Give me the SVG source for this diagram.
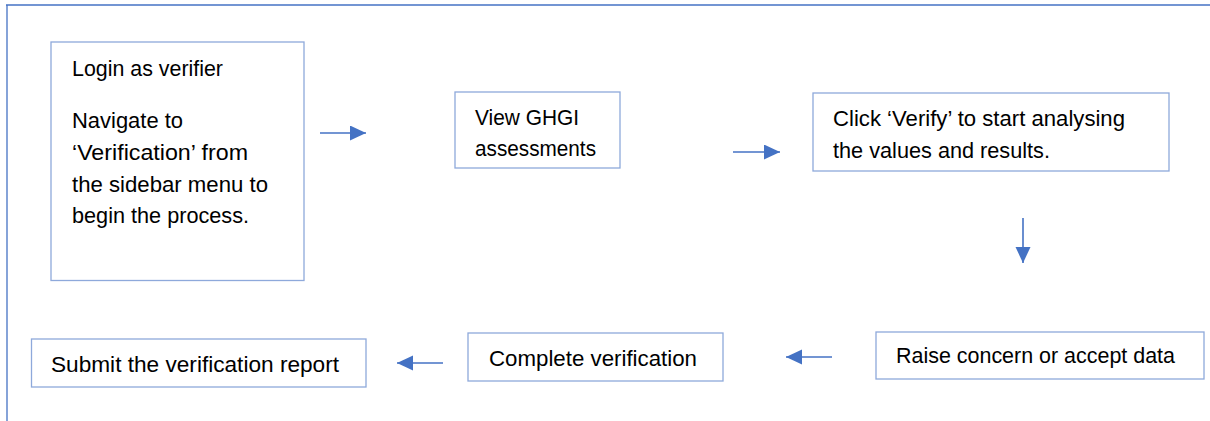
<svg xmlns="http://www.w3.org/2000/svg" width="1210" height="421" viewBox="0 0 1210 421">
<defs>
<style>
.box{fill:#fff;stroke:#8EA9DB;stroke-width:1.3}
.frame{stroke:#4472C4;stroke-width:1.3;fill:none}
.conn{stroke:#4472C4;stroke-width:1.6;fill:none}
text{font-family:"Liberation Sans",Arial,sans-serif;font-size:21.5px;fill:#000}
</style>
<marker id="ah" markerUnits="userSpaceOnUse" markerWidth="16" markerHeight="16" refX="16" refY="7.5" orient="auto">
<path d="M0,0 L16,7.5 L0,15 z" fill="#4472C4"/>
</marker>
</defs>
<rect width="1210" height="421" fill="#fff"/>
<g id="frame">
<line class="frame" x1="6" y1="5" x2="1210" y2="5"/>
<line class="frame" x1="7" y1="5" x2="7" y2="421"/>
</g>
<g id="node-login">
<rect class="box" x="51" y="42" width="253" height="238.5"/>
<text x="72" y="76" textLength="151" lengthAdjust="spacingAndGlyphs">Login as verifier</text>
<text x="72" y="128" textLength="111" lengthAdjust="spacingAndGlyphs">Navigate to</text>
<text x="72" y="160" textLength="176" lengthAdjust="spacingAndGlyphs">‘Verification’ from</text>
<text x="72" y="191.5" textLength="196" lengthAdjust="spacingAndGlyphs">the sidebar menu to</text>
<text x="72" y="223" textLength="177" lengthAdjust="spacingAndGlyphs">begin the process.</text>
</g>
<g id="node-view">
<rect class="box" x="455" y="92" width="165" height="76"/>
<text x="475" y="125" textLength="104" lengthAdjust="spacingAndGlyphs">View GHGI</text>
<text x="475" y="156" textLength="121" lengthAdjust="spacingAndGlyphs">assessments</text>
</g>
<g id="node-click">
<rect class="box" x="813" y="93" width="356" height="78"/>
<text x="833" y="125.5" textLength="292" lengthAdjust="spacingAndGlyphs">Click ‘Verify’ to start analysing</text>
<text x="833" y="157.5" textLength="217" lengthAdjust="spacingAndGlyphs">the values and results.</text>
</g>
<g id="node-raise">
<rect class="box" x="876" y="332" width="328" height="47"/>
<text x="896" y="363" textLength="279" lengthAdjust="spacingAndGlyphs">Raise concern or accept data</text>
</g>
<g id="node-complete">
<rect class="box" x="468" y="333" width="255" height="48"/>
<text x="489" y="366" textLength="208" lengthAdjust="spacingAndGlyphs">Complete verification</text>
</g>
<g id="node-submit">
<rect class="box" x="31.5" y="339" width="334.5" height="48"/>
<text x="51" y="372" textLength="288" lengthAdjust="spacingAndGlyphs">Submit the verification report</text>
</g>
<g id="connectors">
<line class="conn" x1="320" y1="133" x2="366" y2="133" marker-end="url(#ah)"/>
<line class="conn" x1="733" y1="152" x2="780" y2="152" marker-end="url(#ah)"/>
<line class="conn" x1="1023" y1="218" x2="1023" y2="263" marker-end="url(#ah)"/>
<line class="conn" x1="832" y1="357" x2="786" y2="357" marker-end="url(#ah)"/>
<line class="conn" x1="443" y1="363" x2="397" y2="363" marker-end="url(#ah)"/>
</g>
</svg>
